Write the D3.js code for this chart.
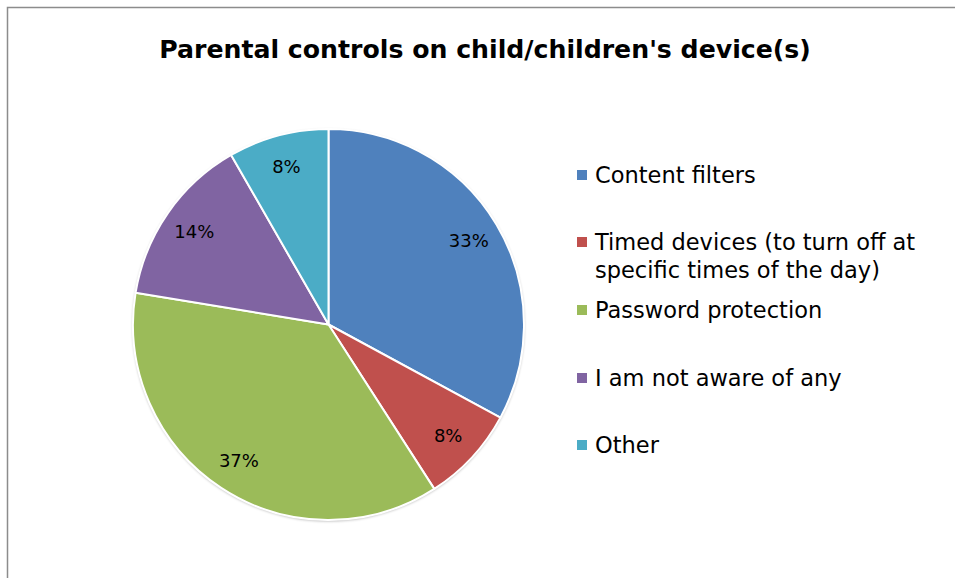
<!DOCTYPE html>
<html>
<head>
<meta charset="utf-8">
<script src="https://cdn.jsdelivr.net/npm/d3@7"></script>
<style>
  html, body { margin: 0; padding: 0; background: #fff; }
  svg { display: block; }
</style>
</head>
<body>
<svg id="chart" width="955" height="578"></svg>
<script>
const title = "Parental controls on child/children's device(s)";
const categories = ["Content filters", "Timed devices (to turn off at specific times of the day)", "Password protection", "I am not aware of any", "Other"];
const legendLines = [["Content filters"], ["Timed devices (to turn off at", "specific times of the day)"], ["Password protection"], ["I am not aware of any"], ["Other"]];
const values = [32.9, 8.0, 36.7, 14.1, 8.3];
const colors = ["#4F81BD", "#C0504D", "#9BBB59", "#8064A2", "#4BACC6"];

const FONT = "'DejaVu Sans', sans-serif";
const svg = d3.select("#chart");

// frame
svg.append("path")
  .attr("d", "M7.5,580 L7.5,7.5 L960,7.5")
  .attr("fill", "none")
  .attr("stroke", "#8c8c8c")
  .attr("stroke-width", 1.5);

// title
svg.append("text")
  .attr("x", 485).attr("y", 58)
  .attr("text-anchor", "middle")
  .attr("font-family", FONT)
  .attr("font-weight", "bold")
  .attr("font-size", 25.2)
  .attr("fill", "#000")
  .text(title);

const cx = 328.5, cy = 324.5, r = 195.5;
const total = d3.sum(values);
const pie = d3.pie().sort(null).value(d => d)(values);
const arc = d3.arc().innerRadius(0).outerRadius(r);
const labelArc = d3.arc().innerRadius(r * 0.835).outerRadius(r * 0.835);

const defs = svg.append("defs");
const f = defs.append("filter").attr("id", "sh").attr("x", "-10%").attr("y", "-10%").attr("width", "120%").attr("height", "120%");
f.append("feGaussianBlur").attr("in", "SourceAlpha").attr("stdDeviation", 1.5);
f.append("feOffset").attr("dx", 0).attr("dy", 0.5).attr("result", "b");
f.append("feComponentTransfer").append("feFuncA").attr("type", "linear").attr("slope", 0.35);
const fm = f.append("feMerge");
fm.append("feMergeNode");
fm.append("feMergeNode").attr("in", "SourceGraphic");

const g = svg.append("g").attr("transform", `translate(${cx},${cy})`);
g.append("circle").attr("r", r).attr("fill", "#fff").attr("filter", "url(#sh)");

g.selectAll("path.slice").data(pie).join("path")
  .attr("class", "slice")
  .attr("d", arc)
  .attr("fill", (d, i) => colors[i])
  .attr("stroke", "#fff")
  .attr("stroke-width", 2)
  .attr("stroke-linejoin", "round");

g.selectAll("text.lbl").data(pie).join("text")
  .attr("class", "lbl")
  .attr("transform", d => `translate(${labelArc.centroid(d)})`)
  .attr("text-anchor", "middle")
  .attr("dy", "0.35em")
  .attr("font-family", FONT)
  .attr("font-size", 18)
  .attr("fill", "#000")
  .text(d => Math.round(d.data / total * 100) + "%");

// legend
const legendY = [183, 250, 318, 386, 453];
const lg = svg.append("g");
legendLines.forEach((lines, i) => {
  lg.append("rect")
    .attr("x", 577).attr("y", legendY[i] - 13)
    .attr("width", 10).attr("height", 10)
    .attr("fill", colors[i]);
  lines.forEach((t, j) => {
    lg.append("text")
      .attr("x", 595).attr("y", legendY[i] + j * 28)
      .attr("font-family", FONT)
      .attr("font-size", 22.5)
      .attr("fill", "#000")
      .text(t);
  });
});
</script>
</body>
</html>
